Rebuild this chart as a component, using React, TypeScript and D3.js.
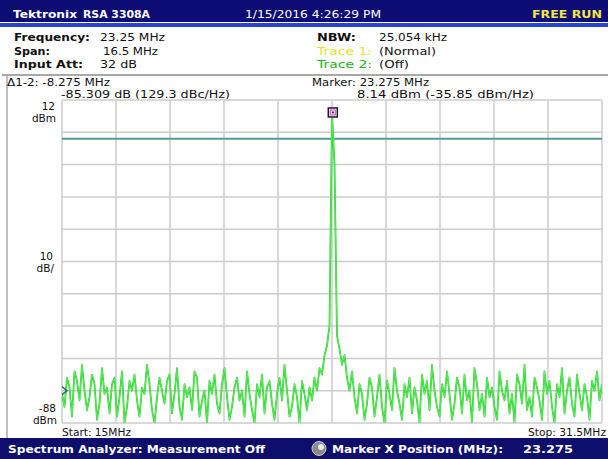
import React from "react";
import * as d3 from "d3";

const START_MHZ = 15;
const STOP_MHZ = 31.5;
const REF_TOP = 12;
const REF_BOTTOM = -88;
const THRESHOLD_DBM = 0;
const MARKER_MHZ = 23.275;
const MARKER_DBM = 8.14;
const TRACE_INDICATOR_DBM = -78;

const levels: number[] = [
  -79, -83, -74, -77, -86, -72, -75, -81, -70, -78,
  -84, -80, -73, -76, -87, -82, -71, -79, -77, -85,
  -76, -74, -86, -80, -72, -88, -83, -75, -78, -73,
  -81, -86, -77, -79, -70, -76, -84, -88, -80, -74,
  -78, -82, -75, -73, -85, -79, -71, -83, -87, -76,
  -80, -77, -84, -72, -74, -86, -81, -78, -88, -75,
  -79, -73, -82, -85, -76, -71, -80, -87, -83, -77,
  -74, -81, -78, -86, -72, -79, -84, -88, -76, -80,
  -73, -85, -77, -75, -82, -87, -79, -74, -81, -70,
  -78, -86, -83, -76, -80, -88, -75, -79, -84, -77,
  -81, -74, -78, -71, -73, -67, -64, -58,
  8.14, -8,
  -61, -65, -70, -67, -74, -78, -72, -80, -85, -76,
  -79, -87, -82, -74, -77, -86, -80, -73, -83, -88,
  -75, -79, -84, -71, -78, -82, -87, -76, -80, -74,
  -85, -77, -81, -88, -73, -79, -75, -84, -70, -78,
  -83, -86, -76, -80, -72, -79, -87, -82, -74, -77,
  -85, -73, -81, -78, -88, -71, -76, -84, -79, -86,
  -74, -80, -77, -83, -87, -72, -78, -81, -75, -85,
  -79, -88, -73, -76, -82, -70, -84, -80, -86, -74,
  -77, -81, -87, -72, -79, -75, -83, -88, -76, -80,
  -71, -85, -78, -74, -82, -86, -73, -79, -84, -76,
  -80, -87, -75, -78, -72, -81, -76,
];

const xDivs = 10;
const yDivs = 10;

const PL = 62, PR = 602, PT = 100, PB = 423;

export default function App() {
  const x = d3.scaleLinear().domain([START_MHZ, STOP_MHZ]).range([PL, PR]);
  const y = d3.scaleLinear().domain([REF_BOTTOM, REF_TOP]).range([PB, PT]);
  const step = (STOP_MHZ - START_MHZ) / (levels.length - 1);
  const pts: [number, number][] = levels.map((v, i) => [START_MHZ + i * step, v]);
  const line = d3
    .line<[number, number]>()
    .x((d) => x(d[0]))
    .y((d) => y(d[1]));
  const xGrid = d3.range(xDivs + 1).map((i) => START_MHZ + (i * (STOP_MHZ - START_MHZ)) / xDivs);
  const yGrid = d3.range(yDivs + 1).map((i) => REF_BOTTOM + (i * (REF_TOP - REF_BOTTOM)) / yDivs);
  const font = "'DejaVu Sans', Verdana, sans-serif";
  const mx = x(MARKER_MHZ);
  const my = y(MARKER_DBM);
  const ty = y(TRACE_INDICATOR_DBM);

  const T = (p: any) => (
    <text
      x={p.x}
      y={p.y}
      fontSize={p.size || 11}
      fontWeight={p.bold ? "bold" : "normal"}
      fill={p.fill || "#111"}
      textAnchor={p.anchor || "start"}
      textLength={p.w}
      lengthAdjust={p.w ? "spacingAndGlyphs" : undefined}
    >
      {p.t}
    </text>
  );

  return (
    <svg
      width={608}
      height={459}
      style={{ position: "absolute", left: 0, top: 0, fontFamily: font }}
    >
      <rect x={0} y={0} width={608} height={459} fill="#ffffff" />
      {/* header */}
      <rect x={0} y={0} width={608} height={22} fill="#0c0c74" />
      <rect x={0} y={23} width={608} height={4} fill="#2a44d2" />
      <T x={13} y={18} t="Tektronix" bold fill="#ffffff" w={64} />
      <T x={83} y={18} t="RSA 3308A" bold fill="#ffffff" size={10} w={67} />
      <T x={245} y={18} t="1/15/2016 4:26:29 PM" fill="#ffffff" w={136} />
      <T x={532} y={18} t="FREE RUN" bold fill="#f2e646" w={70} />

      {/* info */}
      <T x={14} y={41} t="Frequency:" bold w={76} />
      <T x={100} y={41} t="23.25 MHz" w={65} />
      <T x={14} y={54.5} t="Span:" bold w={36} />
      <T x={103} y={54.5} t="16.5 MHz" w={55} />
      <T x={14} y={68} t="Input Att:" bold w={69} />
      <T x={100} y={68} t="32 dB" w={37} />
      <T x={317} y={41} t="NBW:" bold w={39} />
      <T x={379} y={41} t="25.054 kHz" w={68} />
      <T x={317} y={54.5} t="Trace 1:" fill="#e6e22a" w={55} />
      <T x={379} y={54.5} t="(Normal)" w={57} />
      <T x={317} y={68} t="Trace 2:" fill="#22b422" w={55} />
      <T x={379} y={68} t="(Off)" w={30} />

      {/* frame */}
      <line x1={2} x2={608} y1={75} y2={75} stroke="#a8a8a8" strokeWidth={2} />
      <line x1={7} x2={7} y1={75} y2={438} stroke="#a8a8a8" strokeWidth={1.5} />

      <T x={7} y={85.5} t="Δ1-2: -8.275 MHz" w={103} size={10} />
      <T x={61} y={97.5} t="-85.309 dB (129.3 dBc/Hz)" w={169} size={10} />
      <T x={312} y={85.5} t="Marker: 23.275 MHz" w={117} size={10} />
      <T x={357} y={97.5} t="8.14 dBm (-35.85 dBm/Hz)" w={177} size={10} />

      {/* axis labels */}
      <T x={55} y={110} t="12" anchor="end" size={10.5} />
      <T x={56} y={122} t="dBm" anchor="end" size={10.5} />
      <T x={53} y={260} t="10" anchor="end" size={10.5} />
      <T x={54} y={272} t="dB/" anchor="end" size={10.5} />
      <T x={56} y={412} t="-88" anchor="end" size={10.5} />
      <T x={57} y={424} t="dBm" anchor="end" size={10.5} />

      {/* grid */}
      <g stroke="#cccccc" strokeWidth={1.5}>
        {xGrid.map((f, i) => (
          <line key={"vx" + i} x1={x(f)} x2={x(f)} y1={PT} y2={PB} />
        ))}
        {yGrid.map((v, i) => (
          <line key={"hy" + i} x1={PL} x2={PR} y1={y(v)} y2={y(v)} />
        ))}
      </g>
      <line x1={PL} x2={PR} y1={y(THRESHOLD_DBM)} y2={y(THRESHOLD_DBM)} stroke="#4f9c98" strokeWidth={2} />

      <defs>
        <clipPath id="plotclip">
          <rect x={PL} y={PT} width={PR - PL} height={PB - PT} />
        </clipPath>
      </defs>
      <g clipPath="url(#plotclip)">
        <path d={line(pts) || ""} fill="none" stroke="#1ed41e" strokeWidth={1.8} strokeLinejoin="round" />
        <path d={line(pts) || ""} fill="none" stroke="#8af08a" strokeWidth={0.6} strokeLinejoin="round" />
      </g>

      {/* trace indicator */}
      <path d={`M${PL},${ty - 4} L${PL + 5},${ty} L${PL},${ty + 4}`} fill="none" stroke="#2a6e78" strokeWidth={1.5} />

      {/* marker */}
      <rect x={mx - 4.5} y={my - 4.5} width={9} height={9} fill="#ffffff" stroke="#2a1030" strokeWidth={1.5} />
      <rect x={mx - 2.5} y={my - 2.5} width={5} height={5} fill="none" stroke="#c040c0" strokeWidth={1} />
      <rect x={mx - 1} y={my - 1} width={2} height={2} fill="#2a2a60" />

      <T x={62} y={436} t="Start: 15MHz" w={69} />
      <T x={606} y={436} t="Stop: 31.5MHz" anchor="end" w={78} />

      {/* bottom bar */}
      <rect x={0} y={438} width={608} height={21} fill="#0e0e6c" />
      <T x={8} y={453} t="Spectrum Analyzer: Measurement Off" bold fill="#ffffff" w={257} />
      <circle cx={319} cy={448.5} r={7} fill="#8a8a8a" stroke="#c8c8c8" strokeWidth={1} />
      <circle cx={321} cy={447} r={3} fill="#e8e8e8" />
      <T x={332} y={453} t="Marker X Position (MHz):" bold fill="#ffffff" w={171} />
      <T x={523} y={453} t="23.275" bold fill="#ffffff" w={50} />
    </svg>
  );
}
